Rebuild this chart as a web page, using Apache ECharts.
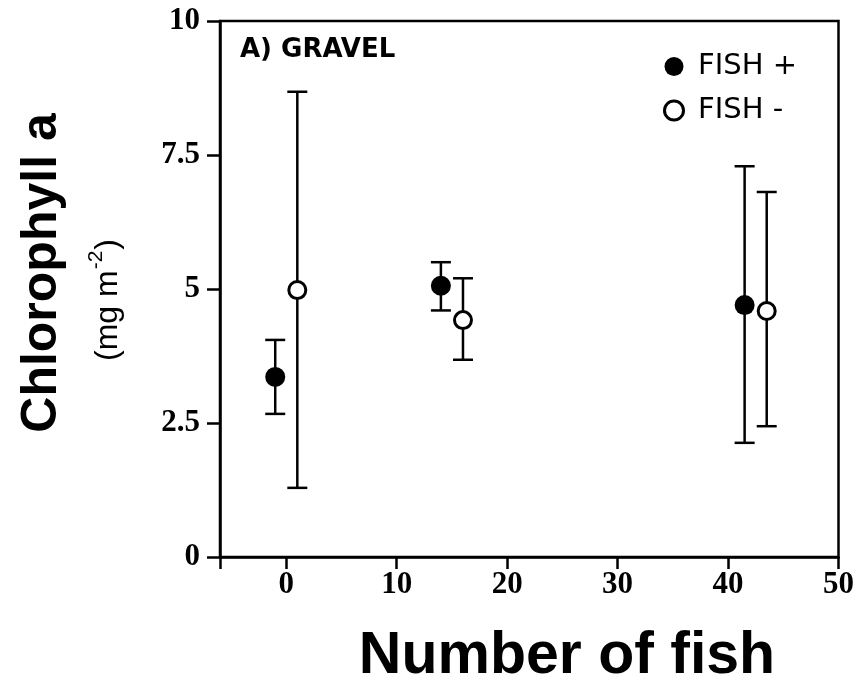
<!DOCTYPE html>
<html>
<head>
<meta charset="utf-8">
<script src="https://cdn.jsdelivr.net/npm/echarts@6/dist/echarts.min.js"></script>
<style>html,body{margin:0;padding:0;background:#fff}#c{width:857px;height:685px}</style>
</head>
<body>
<div id="c"></div>
<script>
// Data
const xTicks = [0, 10, 20, 30, 40, 50];
const yTicks = [0, 2.5, 5, 7.5, 10];
const fishPlusX = [-1, 14, 41.5];
const fishPlusMean = [3.36, 5.06, 4.7];
const fishPlusLow = [2.67, 4.6, 2.13];
const fishPlusHigh = [4.05, 5.5, 7.29];
const fishMinusX = [1, 16, 43.5];
const fishMinusMean = [4.98, 4.42, 4.59];
const fishMinusLow = [1.29, 3.68, 2.44];
const fishMinusHigh = [8.68, 5.2, 6.81];

const chart = echarts.init(document.getElementById('c'), null, {renderer: 'canvas'});

function errData(xs, lo, hi) { return xs.map((x, i) => [x, lo[i], hi[i]]); }
function ptData(xs, ys) { return xs.map((x, i) => [x, ys[i]]); }

function renderErr(params, api) {
  const x = api.value(0), lo = api.value(1), hi = api.value(2);
  const pLo = api.coord([x, lo]);
  const pHi = api.coord([x, hi]);
  const w = 10;
  const st = {stroke: '#000', lineWidth: 2.5};
  return {
    type: 'group',
    children: [
      {type: 'line', shape: {x1: pLo[0], y1: pLo[1], x2: pHi[0], y2: pHi[1]}, style: st},
      {type: 'line', shape: {x1: pLo[0] - w, y1: pLo[1], x2: pLo[0] + w, y2: pLo[1]}, style: st},
      {type: 'line', shape: {x1: pHi[0] - w, y1: pHi[1], x2: pHi[0] + w, y2: pHi[1]}, style: st}
    ]
  };
}

const serifBold = {fontFamily: 'Liberation Serif', fontWeight: 'bold', fontSize: 31, color: '#000'};

chart.setOption({
  animation: false,
  backgroundColor: '#fff',
  grid: {left: 220, right: 18, top: 21, bottom: 128, show: true, borderColor: '#000', borderWidth: 2.5, backgroundColor: 'transparent'},
  xAxis: {
    type: 'value', min: -6, max: 50,
    axisLine: {show: true, onZero: false, lineStyle: {color: '#000', width: 2.5}},
    axisTick: {show: true, length: 12, inside: false, customValues: [-6].concat(xTicks), lineStyle: {color: '#000', width: 2.5}},
    axisLabel: Object.assign({customValues: xTicks, margin: 12}, serifBold),
    splitLine: {show: false}
  },
  yAxis: {
    type: 'value', min: 0, max: 10, interval: 2.5,
    axisLine: {show: true, onZero: false, lineStyle: {color: '#000', width: 2.5}},
    axisTick: {show: true, length: 13, lineStyle: {color: '#000', width: 2.5}},
    axisLabel: Object.assign({margin: 20}, serifBold),
    splitLine: {show: false}
  },
  legend: {
    data: ['FISH +', {name: 'FISH -', itemStyle: {color: '#fff', borderColor: '#000', borderWidth: 3}}],
    orient: 'vertical', left: 658, top: 47,
    itemWidth: 22, itemHeight: 19, itemGap: 15,
    textStyle: {fontFamily: 'DejaVu Sans', fontSize: 29, color: '#000', padding: [0, 0, 0, 8]}
  },
  graphic: [
    {type: 'text', left: 240, top: 37, style: {text: 'A) GRAVEL', fontFamily: 'DejaVu Sans', fontWeight: 'bold', fontSize: 26, fill: '#000'}},
    {type: 'text', x: 42, y: 273, rotation: Math.PI / 2, style: {text: 'Chlorophyll a', fontFamily: 'Liberation Sans', fontWeight: 'bold', fontSize: 50, fill: '#000', align: 'center', verticalAlign: 'middle'}},
    {type: 'text', x: 105, y: 300, rotation: Math.PI / 2, style: {
      text: '{n|(mg m}{s|-2}{n|)}', align: 'center', verticalAlign: 'middle',
      rich: {
        n: {fontFamily: 'Liberation Sans', fontSize: 32, fill: '#000', verticalAlign: 'bottom', lineHeight: 38},
        s: {fontFamily: 'Liberation Sans', fontSize: 21, fill: '#000', verticalAlign: 'top', lineHeight: 38, padding: [0, 1, 15, 1]}
      }
    }},
    {type: 'text', x: 567, y: 657, style: {text: 'Number of fish', fontFamily: 'Liberation Sans', fontWeight: 'bold', fontSize: 59, fill: '#000', align: 'center', verticalAlign: 'middle'}}
  ],
  series: [
    {type: 'custom', name: 'errPlus', renderItem: renderErr, data: errData(fishPlusX, fishPlusLow, fishPlusHigh), encode: {x: 0, y: [1, 2]}, z: 2, silent: true},
    {type: 'custom', name: 'errMinus', renderItem: renderErr, data: errData(fishMinusX, fishMinusLow, fishMinusHigh), encode: {x: 0, y: [1, 2]}, z: 2, silent: true},
    {type: 'scatter', name: 'FISH +', data: ptData(fishPlusX, fishPlusMean), symbol: 'circle', symbolSize: 20,
      itemStyle: {color: '#000', borderColor: '#000', borderWidth: 0, opacity: 1}, z: 5},
    {type: 'scatter', name: 'FISH -', data: ptData(fishMinusX, fishMinusMean), symbol: 'circle', symbolSize: 17,
      itemStyle: {color: '#fff', borderColor: '#000', borderWidth: 3, opacity: 1}, z: 5}
  ]
});
</script>
</body>
</html>
